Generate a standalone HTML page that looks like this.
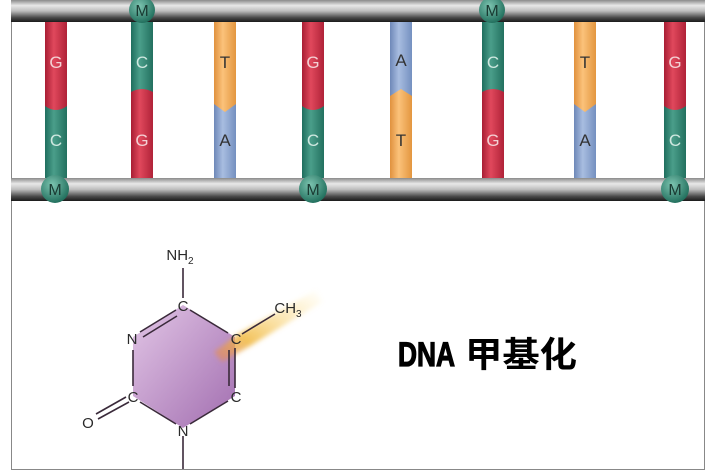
<!DOCTYPE html>
<html><head><meta charset="utf-8"><style>
html,body{margin:0;padding:0;background:#fff;width:710px;height:475px;overflow:hidden}
svg{display:block}
</style></head><body>
<svg width="710" height="475" viewBox="0 0 710 475" xmlns="http://www.w3.org/2000/svg">
<defs>
<linearGradient id="rail" x1="0" y1="0" x2="0" y2="1">
<stop offset="0" stop-color="#8a8a8a"/><stop offset="0.25" stop-color="#e8e8e8"/><stop offset="0.5" stop-color="#bdbdbd"/><stop offset="0.8" stop-color="#4a4a4a"/><stop offset="1" stop-color="#1a1a1a"/>
</linearGradient>
<linearGradient id="red" x1="0" x2="1"><stop offset="0" stop-color="#a81e34"/><stop offset="0.4" stop-color="#e0485c"/><stop offset="1" stop-color="#b02238"/></linearGradient>
<linearGradient id="grn" x1="0" x2="1"><stop offset="0" stop-color="#1f6e5e"/><stop offset="0.4" stop-color="#4a9e8a"/><stop offset="1" stop-color="#23705f"/></linearGradient>
<linearGradient id="org" x1="0" x2="1"><stop offset="0" stop-color="#e0913e"/><stop offset="0.4" stop-color="#fbc27a"/><stop offset="1" stop-color="#e3963f"/></linearGradient>
<linearGradient id="blu" x1="0" x2="1"><stop offset="0" stop-color="#6e88b8"/><stop offset="0.4" stop-color="#a8bde0"/><stop offset="1" stop-color="#7490c0"/></linearGradient>
<radialGradient id="m" cx="0.4" cy="0.35" r="0.7"><stop offset="0" stop-color="#7cc4b0"/><stop offset="1" stop-color="#1c6a58"/></radialGradient>
<linearGradient id="hex" x1="0" y1="0" x2="1" y2="1"><stop offset="0" stop-color="#e2c6e6"/><stop offset="1" stop-color="#a26eb0"/></linearGradient>
<linearGradient id="glow" x1="0" y1="1" x2="1" y2="0"><stop offset="0" stop-color="#e08060" stop-opacity="0.6"/><stop offset="0.3" stop-color="#f0b840" stop-opacity="0.85"/><stop offset="1" stop-color="#ffe080" stop-opacity="0"/></linearGradient>
<filter id="bl"><feGaussianBlur stdDeviation="2.5"/></filter>
</defs>
<line x1="11.5" y1="0" x2="11.5" y2="469" stroke="#888" stroke-width="1"/>
<line x1="704.5" y1="0" x2="704.5" y2="469" stroke="#888" stroke-width="1"/>
<line x1="11" y1="469.5" x2="705" y2="469.5" stroke="#888" stroke-width="1"/>

<g font-family="Liberation Sans, sans-serif" font-size="17" text-anchor="middle">
<rect x="45" y="20" width="22" height="160" fill="url(#grn)"/><path d="M45 20 H67 V106 Q56 114 45 106Z" fill="url(#red)"/>
<text x="56" y="68" fill="#f4d0d4">G</text><text x="56" y="146" fill="#cfe8e0">C</text>
<rect x="131" y="20" width="22" height="160" fill="url(#red)"/><path d="M131 20 H153 V92 Q142 86 131 92Z" fill="url(#grn)"/>
<text x="142" y="68" fill="#cfe8e0">C</text><text x="142" y="146" fill="#f4d0d4">G</text>
<rect x="214" y="20" width="22" height="160" fill="url(#blu)"/><path d="M214 20 H236 V104 L225 112 L214 104Z" fill="url(#org)"/>
<text x="225" y="68" fill="#333">T</text><text x="225" y="146" fill="#333">A</text>
<rect x="302" y="20" width="22" height="160" fill="url(#grn)"/><path d="M302 20 H324 V106 Q313 114 302 106Z" fill="url(#red)"/>
<text x="313" y="68" fill="#f4d0d4">G</text><text x="313" y="146" fill="#cfe8e0">C</text>
<rect x="390" y="20" width="22" height="160" fill="url(#org)"/><path d="M390 20 H412 V96 L401 89 L390 96Z" fill="url(#blu)"/>
<text x="401" y="66" fill="#333">A</text><text x="401" y="146" fill="#333">T</text>
<rect x="482" y="20" width="22" height="160" fill="url(#red)"/><path d="M482 20 H504 V92 Q493 86 482 92Z" fill="url(#grn)"/>
<text x="493" y="68" fill="#cfe8e0">C</text><text x="493" y="146" fill="#f4d0d4">G</text>
<rect x="574" y="20" width="22" height="160" fill="url(#blu)"/><path d="M574 20 H596 V104 L585 112 L574 104Z" fill="url(#org)"/>
<text x="585" y="68" fill="#333">T</text><text x="585" y="146" fill="#333">A</text>
<rect x="664" y="20" width="22" height="160" fill="url(#grn)"/><path d="M664 20 H686 V106 Q675 114 664 106Z" fill="url(#red)"/>
<text x="675" y="68" fill="#f4d0d4">G</text><text x="675" y="146" fill="#cfe8e0">C</text>
</g>

<rect x="11" y="0" width="694" height="22" fill="url(#rail)"/>
<rect x="11" y="178" width="694" height="23" fill="url(#rail)"/>

<g font-family="Liberation Sans, sans-serif" font-size="16" text-anchor="middle" fill="#1a3a32">
<circle cx="142" cy="10" r="13" fill="url(#m)"/><text x="142" y="16">M</text>
<circle cx="492" cy="10" r="13" fill="url(#m)"/><text x="492" y="16">M</text>
<circle cx="55" cy="189" r="14" fill="url(#m)"/><text x="55" y="195">M</text>
<circle cx="313" cy="189" r="14" fill="url(#m)"/><text x="313" y="195">M</text>
<circle cx="675" cy="189" r="14" fill="url(#m)"/><text x="675" y="195">M</text>
</g>

<polygon points="183,305 235,337 235,396 183,428 133,396 133,337" fill="url(#hex)"/>
<polygon points="214,352 240,333 316,290 322,302 250,346 222,362" fill="url(#glow)" filter="url(#bl)"/>
<g stroke="#3a2a3a" stroke-width="1.6" fill="none">
<line x1="183" y1="268" x2="183" y2="298"/>
<line x1="190" y1="310" x2="228" y2="333"/>
<line x1="242" y1="334" x2="275" y2="314"/>
<line x1="235" y1="348" x2="235" y2="388"/><line x1="229" y1="350" x2="229" y2="386"/>
<line x1="228" y1="401" x2="190" y2="424"/>
<line x1="176" y1="424" x2="140" y2="402"/>
<line x1="133" y1="350" x2="133" y2="386"/>
<line x1="140" y1="332" x2="176" y2="310"/><line x1="143" y1="337" x2="177" y2="316"/>
<line x1="126" y1="397" x2="96" y2="414"/><line x1="129" y1="402" x2="98" y2="419"/>
<line x1="183" y1="436" x2="183" y2="469"/>
</g>
<g font-family="Liberation Sans, sans-serif" font-size="15" fill="#2a2a2a" text-anchor="middle">
<text x="180" y="260">NH<tspan font-size="10" dy="4">2</tspan></text>
<text x="183" y="311">C</text>
<text x="236" y="344">C</text>
<text x="236" y="402">C</text>
<text x="183" y="436">N</text>
<text x="133" y="402">C</text>
<text x="132" y="344">N</text>
<text x="88" y="428">O</text>
<text x="288" y="313">CH<tspan font-size="10" dy="4">3</tspan></text>
</g>

<text x="398" y="366" font-family="Liberation Sans, sans-serif" font-weight="bold" font-size="34" textLength="57" lengthAdjust="spacingAndGlyphs" fill="#000" stroke="#000" stroke-width="1.2">DNA</text>
<text x="465" y="367" font-family="'Noto Sans CJK SC', sans-serif" font-weight="bold" font-size="35" textLength="112" lengthAdjust="spacingAndGlyphs" fill="#000">甲基化</text>
</svg>
</body></html>
